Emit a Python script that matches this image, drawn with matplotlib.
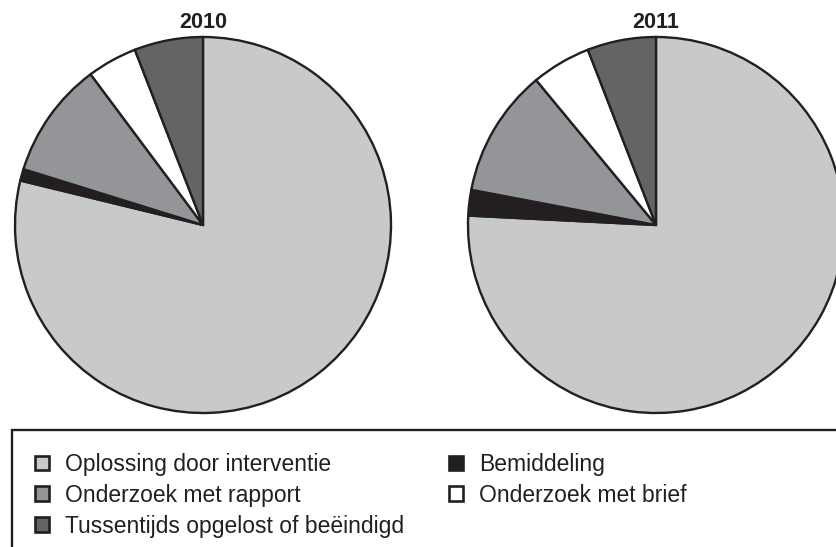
import matplotlib.pyplot as plt
from matplotlib.patches import Rectangle, Patch

plt.rcParams['font.family'] = ['Liberation Sans', 'DejaVu Sans']

# shares per year (percent), in clockwise order from 12 o'clock
categories = ['Oplossing door interventie', 'Bemiddeling', 'Onderzoek met rapport',
              'Onderzoek met brief', 'Tussentijds opgelost of beëindigd']
years = ['2010', '2011']
shares_2010 = [78.8, 1.0, 10.0, 4.3, 5.9]
shares_2011 = [75.8, 2.2, 11.0, 5.1, 5.9]
colors = ['#c8c9cb', '#231f20', '#939598', '#ffffff', '#636466']
dark = '#231f20'

# legend order (two columns, filled column-wise)
legend_order = [0, 2, 4, 1, 3]

W, H = 837, 547
fig = plt.figure(figsize=(W / 100, H / 100), dpi=100)
ax = fig.add_axes([0, 0, 1, 1])

centers = [(203, H - 225), (656, H - 225)]
radius = 188
for year, shares, (cx, cy) in zip(years, [shares_2010, shares_2011], centers):
    ax.pie(shares, colors=colors, startangle=90, counterclock=False,
           center=(cx, cy), radius=radius, frame=True,
           wedgeprops=dict(edgecolor=dark, linewidth=1.7))
    ax.text(cx, H - 22, year, ha='center', va='center', fontsize=15.5,
            fontweight='bold', color=dark)

ax.set_xlim(0, W)
ax.set_ylim(0, H)
ax.set_aspect('equal')
ax.axis('off')

# legend frame, running off the right and bottom edges
ax.add_patch(Rectangle((12, -30), 850, H - 430 + 30, facecolor='none',
                       edgecolor=dark, linewidth=1.7, clip_on=False))

handles = [Patch(facecolor=colors[i], edgecolor=dark, linewidth=1.9) for i in legend_order]
labels = [categories[i] for i in legend_order]
leg = ax.legend(handles, labels, ncol=2, loc='upper left',
                bbox_to_anchor=(35, H - 453), bbox_transform=ax.transData,
                frameon=False, fontsize=16.5, handlelength=0.61, handleheight=0.61,
                handletextpad=0.7, labelspacing=0.34, columnspacing=1.96,
                borderpad=0, borderaxespad=0)
for t in leg.get_texts():
    t.set_color(dark)

fig.savefig('out.png', dpi=100)
